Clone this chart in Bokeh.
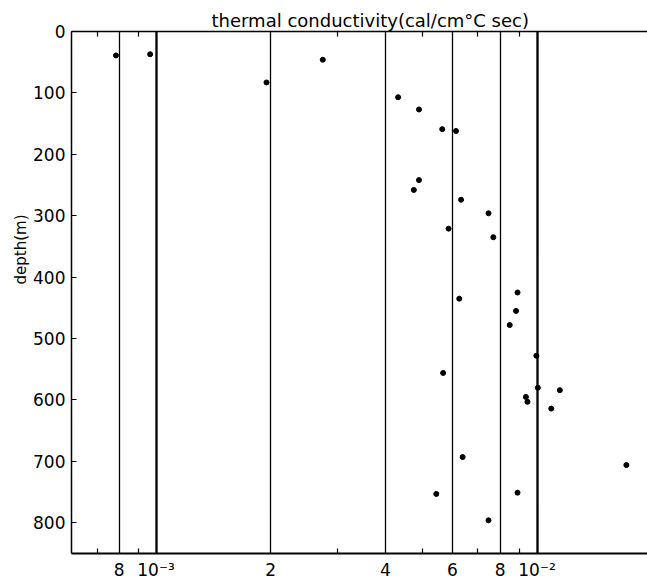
from bokeh.plotting import figure
from bokeh.models import (Range1d, LinearAxis, LogAxis, FixedTicker, Grid,
                          ColumnDataSource, Title)
from bokeh.embed import file_html
from bokeh.resources import INLINE

# data: thermal conductivity (cal/cm°C sec) vs depth (m)
conductivity = [7.85e-4, 9.65e-4, 1.95e-3, 2.74e-3, 4.32e-3, 4.90e-3, 5.64e-3, 6.13e-3,
                4.90e-3, 4.75e-3, 6.32e-3, 7.46e-3, 5.86e-3, 7.68e-3, 8.89e-3, 6.25e-3,
                8.81e-3, 8.48e-3, 9.96e-3, 5.67e-3, 1.005e-2, 1.148e-2, 9.35e-3, 9.44e-3,
                1.09e-2, 6.38e-3, 1.716e-2, 5.44e-3, 8.89e-3, 7.46e-3]
depth = [39, 37, 83, 46, 107, 127, 159, 162,
         242, 258, 274, 296, 321, 335, 425, 435,
         455, 478, 528, 556, 580, 584, 595, 603,
         614, 693, 706, 753, 751, 796]

x_major = [8e-4, 1e-3, 2e-3, 4e-3, 6e-3, 8e-3, 1e-2]
x_decades = [1e-3, 1e-2]
x_minor = [7e-4, 9e-4, 3e-3, 5e-3, 7e-3, 9e-3]
x_labels = ["8", "10\u207b\u00b3", "2", "4", "6", "8", "10\u207b\u00b2"]
y_ticks = [0, 100, 200, 300, 400, 500, 600, 700, 800]

FONT = "DejaVu Sans"

p = figure(frame_width=576, frame_height=522, x_axis_type="log",
           x_range=Range1d(6.0e-4, 1.95e-2), y_range=Range1d(850, 0),
           output_backend="svg", toolbar_location=None,
           x_axis_location=None, y_axis_location=None,
           min_border_left=71, min_border_right=0, min_border_top=31, min_border_bottom=0)
p.outline_line_color = None
p.background_fill_color = "white"
p.border_fill_color = "white"
p.grid.visible = False

# title
p.title = Title(text="thermal conductivity(cal/cm\u00b0C sec)", align="left", offset=140,
                text_font=FONT, text_font_size="18px", text_font_style="normal",
                text_color="black", standoff=2)

# left axis
ya = LinearAxis(ticker=FixedTicker(ticks=y_ticks))
ya.major_tick_in = 5
ya.major_tick_out = 0
ya.minor_tick_line_color = None
ya.axis_line_width = 1.5
ya.major_tick_line_width = 1.2
ya.major_label_text_font = FONT
ya.major_label_text_font_size = "17px"
ya.major_label_text_color = "black"
ya.major_label_standoff = 6
p.add_layout(ya, "left")

# y label as a left-side title (outside the tick labels), toward the upper part
p.add_layout(Title(text="depth(m)", align="right", offset=183,
                   text_font=FONT, text_font_size="15px", text_font_style="normal",
                   text_color="black", standoff=2), "left")

# bottom axis
xa = LogAxis(ticker=FixedTicker(ticks=x_major, minor_ticks=x_minor))
xa.major_label_overrides = {t: l for t, l in zip(x_major, x_labels)}
xa.major_tick_in = 0
xa.major_tick_out = 0
xa.minor_tick_in = 5
xa.minor_tick_out = 0
xa.axis_line_width = 2
xa.minor_tick_line_width = 1.2
xa.major_label_text_font = FONT
xa.major_label_text_font_size = "17px"
xa.major_label_text_color = "black"
xa.major_label_standoff = 6
p.add_layout(xa, "below")

# top axis (line + inner minor ticks only)
ta = LogAxis(ticker=FixedTicker(ticks=[], minor_ticks=x_minor))
ta.major_tick_in = 0
ta.major_tick_out = 0
ta.minor_tick_in = 5
ta.minor_tick_out = 0
ta.axis_line_width = 1.5
ta.minor_tick_line_width = 1.2
ta.major_label_standoff = 0
p.add_layout(ta, "above")

# vertical reference lines
g1 = Grid(dimension=0, ticker=FixedTicker(ticks=x_major), grid_line_color="black",
          grid_line_width=1.3)
g2 = Grid(dimension=0, ticker=FixedTicker(ticks=x_decades), grid_line_color="black",
          grid_line_width=2.2)
p.add_layout(g1)
p.add_layout(g2)

src = ColumnDataSource(dict(x=conductivity, y=depth))
p.scatter("x", "y", source=src, size=5, color="black")

open("out.html", "w").write(file_html(p, INLINE))
